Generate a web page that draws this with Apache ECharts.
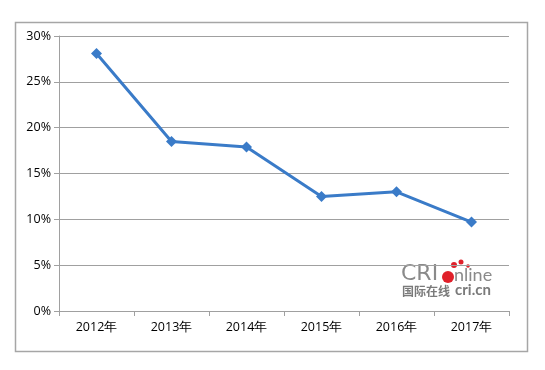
<!DOCTYPE html>
<html><head><meta charset="utf-8">
<script src="https://cdn.jsdelivr.net/npm/echarts@6/dist/echarts.min.js"></script>
<style>html,body{margin:0;padding:0;background:#fff}#c{width:545px;height:370px}</style>
</head><body><div id="c"></div>
<script>
var categories = ['2012年','2013年','2014年','2015年','2016年','2017年'];
var values = [28.1, 18.5, 17.9, 12.5, 13.0, 9.7];
var yTicks = [0, 5, 10, 15, 20, 25, 30];

var chart = echarts.init(document.getElementById('c'));
var font = 'Open Sans, Lato, sans-serif';
chart.setOption({
  animation: false,
  backgroundColor: '#fff',
  grid: {left: 59, right: 36, top: 36, bottom: 59, containLabel: false},
  xAxis: {
    type: 'category', data: categories, boundaryGap: true,
    axisLine: {lineStyle: {color: '#a0a0a0', width: 1}},
    axisTick: {show: true, alignWithLabel: false, length: 5, lineStyle: {color: '#a0a0a0'}},
    axisLabel: {color: '#000', fontSize: 12.5, fontFamily: font, margin: 10}
  },
  yAxis: {
    type: 'value', min: yTicks[0], max: yTicks[yTicks.length-1], interval: 5,
    axisLine: {show: true, lineStyle: {color: '#a0a0a0'}},
    axisTick: {show: true, length: 5, lineStyle: {color: '#a0a0a0'}},
    splitLine: {lineStyle: {color: '#a0a0a0', width: 1}},
    axisLabel: {color: '#000', fontSize: 12.5, fontFamily: font, formatter: '{value}%', margin: 8}
  },
  series: [{
    type: 'line', data: values,
    symbol: 'diamond', symbolSize: 11,
    lineStyle: {color: '#3a7bc8', width: 3},
    itemStyle: {color: '#3a7bc8'}
  }],
  graphic: [
    {type: 'rect', left: 13, top: 20, shape: {width: 512, height: 329},
     style: {fill: 'none', stroke: '#a6a6a6', lineWidth: 1.5}, silent: true},
    {type: 'text', left: 401, top: 263,
     style: {text: 'CRI', fill: '#8a8a8a', font: '22px "DejaVu Sans", sans-serif'}},
    {type: 'circle', shape: {cx: 448, cy: 277, r: 6}, style: {fill: '#e0202a'}},
    {type: 'circle', shape: {cx: 454, cy: 265, r: 3}, style: {fill: '#e0202a'}},
    {type: 'circle', shape: {cx: 461, cy: 262, r: 2.5}, style: {fill: '#e0202a'}},
    {type: 'circle', shape: {cx: 468, cy: 266, r: 1.8}, style: {fill: '#e0202a'}},
    {type: 'text', left: 454, top: 266,
     style: {text: 'nline', fill: '#8a8a8a', font: '18px Lato, sans-serif'}},
    {type: 'text', left: 402, top: 285,
     style: {text: '国际在线', fill: '#7a7a7a', font: 'bold 12px "Noto Sans CJK SC", sans-serif'}},
    {type: 'text', left: 455, top: 283,
     style: {text: 'cri.cn', fill: '#7a7a7a', font: 'bold 15px Lato, sans-serif'}}
  ]
});
</script></body></html>
